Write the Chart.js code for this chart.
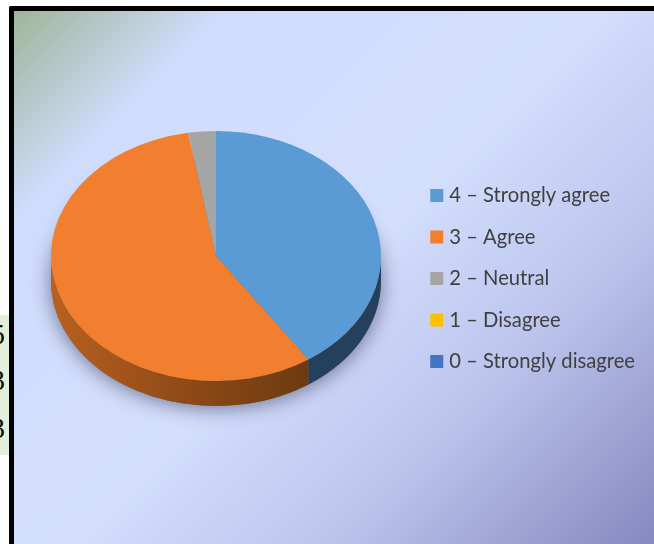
<!DOCTYPE html>
<html>
<head>
<meta charset="utf-8">
<script src="https://cdn.jsdelivr.net/npm/chart.js@4"></script>
<style>
    html, body { margin: 0; padding: 0; background: #fff; overflow: hidden; }
    #strip { position: absolute; left: 0; top: 315px; width: 9px; height: 140px; background: #e2efd9; overflow: hidden; }
    #strip span { position: absolute; right: 4px; font: 29px "Liberation Serif", serif; color: #111; line-height: 28px; }
    #panel {
        position: absolute; left: 9px; top: 6px; width: 645px; height: 538px; box-sizing: border-box;
        border-left: 5px solid #000; border-top: 5px solid #000; border-top-left-radius: 2px;
        background: linear-gradient(135deg, #9fb59a 0%, #d0dcfc 18%, #d3dffd 50%, #bcc4ec 72%, #8688c0 100%);
    }
    #chart { position: absolute; left: 0; top: 0; }
</style>
</head>
<body>
<div id="strip">
    <span style="top: 5px">5</span>
    <span style="top: 51px">3</span>
    <span style="top: 99px">3</span>
</div>
<div id="panel"></div>
<canvas id="chart" width="654" height="544"></canvas>
<script>
// Chart data
const categories = ['4 – Strongly agree', '3 – Agree', '2 – Neutral', '1 – Disagree', '0 – Strongly disagree'];
const responses = [15, 21, 1, 0, 0];
const sliceColors = ['#5b9bd5', '#f27f30', '#a5a5a5', '#ffc000', '#4472c4'];

// The pie is tilted: squash it vertically and give it a rim
const squash = 125 / 165;
const rimDepth = 25;

const tiltedPie = {
    id: 'tiltedPie',
    afterLayout(chart) {
        // legend sits below the middle of the pie
        chart.legend.top += 22.5;
        chart.legend.bottom += 22.5;
    },
    beforeDatasetsDraw(chart) {
        const ctx = chart.ctx;
        const arcs = chart.getDatasetMeta(0).data;
        const cx = arcs[0].x, cy = arcs[0].y, rx = arcs[0].outerRadius, ry = rx * squash;

        // soft shadow under the pie
        ctx.save();
        ctx.shadowColor = 'rgba(40, 40, 70, 0.6)';
        ctx.shadowBlur = 20;
        ctx.shadowOffsetY = 2;
        ctx.fillStyle = '#666';
        ctx.beginPath();
        ctx.ellipse(cx, cy + rimDepth, rx, ry, 0, 0, Math.PI * 2);
        ctx.fill();
        ctx.restore();

        // rim, only the front half can be seen
        const rimOrange = ctx.createLinearGradient(cx - rx, 0, cx + rx * 0.6, 0);
        rimOrange.addColorStop(0, '#b9601f');
        rimOrange.addColorStop(0.5, '#8f4a17');
        rimOrange.addColorStop(1, '#6b3a10');
        const rimColors = ['#24405c', rimOrange, '#5c5c5c', '#8a6a00', '#264478'];
        arcs.forEach(function(arc, i) {
            const start = Math.max(arc.startAngle, 0);
            const end = Math.min(arc.endAngle, Math.PI);
            if (end <= start) return;
            ctx.fillStyle = rimColors[i];
            ctx.beginPath();
            ctx.ellipse(cx, cy, rx, ry, 0, start, end);
            ctx.ellipse(cx, cy + rimDepth, rx, ry, 0, end, start, true);
            ctx.closePath();
            ctx.fill();
        });

        ctx.save();
        ctx.translate(cx, cy);
        ctx.scale(1, squash);
        ctx.translate(-cx, -cy);
    },
    afterDatasetsDraw(chart) {
        chart.ctx.restore();
    }
};

// Initialize the chart when the document is loaded
document.addEventListener('DOMContentLoaded', function() {
    new Chart(document.getElementById('chart'), {
        type: 'pie',
        data: {
            labels: categories,
            datasets: [{
                data: responses,
                backgroundColor: sliceColors,
                borderWidth: 0
            }]
        },
        plugins: [tiltedPie],
        options: {
            responsive: false,
            animation: false,
            layout: {
                padding: { left: 19, top: 91, bottom: 123, right: 9 }
            },
            plugins: {
                tooltip: { enabled: false },
                legend: {
                    position: 'right',
                    align: 'center',
                    labels: {
                        color: '#404040',
                        font: { family: 'Lato', size: 20.2, lineHeight: 1 },
                        padding: 21.3,
                        boxWidth: 5,
                        boxHeight: 5,
                        generateLabels(chart) {
                            // thick outline makes the swatch sit close to its text
                            const items = Chart.overrides.doughnut.plugins.legend.labels.generateLabels(chart);
                            return items.map(function(item) {
                                item.lineWidth = 8;
                                item.strokeStyle = item.fillStyle;
                                return item;
                            });
                        }
                    }
                }
            }
        }
    });
});
</script>
</body>
</html>
